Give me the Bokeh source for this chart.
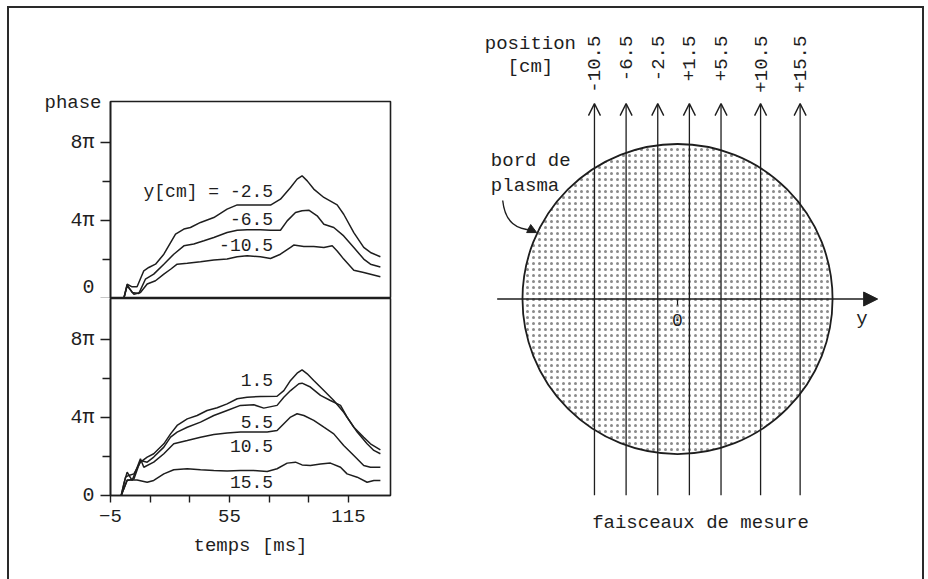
from bokeh.plotting import figure
from bokeh.models import (ColumnDataSource, FixedTicker, Label, Arrow, OpenHead,
                          NormalHead, Range1d)
from bokeh.layouts import row, column
from bokeh.embed import file_html
from bokeh.resources import INLINE
from bokeh.core.properties import value

FONT = "Liberation Mono"
INK = "#1e1e1e"

# ---------------- data: phase (units of pi) vs time [ms] ----------------
# upper panel: y[cm] = -2.5, -6.5, -10.5
t_m2_5 = [1.7, 3.4, 5.9, 8.4, 11.8, 14.3, 17.7, 21.9, 27.8, 32.0, 35.3, 40.4, 47.1, 53.8,
          58.9, 63.9, 70.6, 75.7, 80.7, 85.8, 89.1, 91.6, 94.2, 97.5, 102.6, 109.3, 112.6,
          117.7, 122.7, 126.1, 131.1]
v_m2_5 = [0.0, 0.73, 0.60, 0.60, 1.42, 1.59, 1.76, 2.27, 3.30, 3.56, 3.64, 3.90, 4.15, 4.58,
          4.80, 4.80, 4.79, 4.79, 5.09, 5.69, 6.12, 6.29, 6.03, 5.61, 5.18, 4.80, 4.32,
          3.38, 2.62, 2.36, 2.14]
t_m6_5 = [1.7, 3.4, 5.9, 9.3, 12.6, 16.8, 21.9, 26.9, 32.0, 37.0, 42.1, 47.1, 53.8, 58.9,
          63.9, 70.6, 75.7, 80.7, 84.1, 88.3, 91.6, 95.0, 99.2, 102.6, 107.6, 112.6, 117.7,
          122.7, 126.1, 131.1]
v_m6_5 = [0.0, 0.70, 0.31, 0.26, 0.99, 1.25, 1.76, 2.27, 2.70, 2.79, 2.96, 3.13, 3.38, 3.50,
          3.52, 3.52, 3.50, 3.50, 3.98, 4.41, 4.50, 4.53, 4.24, 3.81, 3.64, 3.21, 2.62,
          2.02, 1.76, 1.62]
t_m10_5 = [1.7, 3.4, 6.8, 10.1, 13.5, 17.7, 21.9, 25.3, 28.6, 33.7, 40.4, 47.1, 53.8, 58.9,
           63.9, 70.6, 75.7, 80.7, 85.8, 87.4, 92.5, 97.5, 102.6, 106.8, 109.3, 112.6, 117.7,
           122.7, 131.1]
v_m10_5 = [0.0, 0.65, 0.22, 0.31, 0.74, 0.91, 1.25, 1.50, 1.76, 1.81, 1.88, 1.97, 2.02, 2.14,
           2.19, 2.14, 2.05, 2.27, 2.62, 2.74, 2.67, 2.67, 2.62, 2.70, 2.44, 2.02, 1.45,
           1.33, 1.11]

# lower panel: y[cm] = 1.5, 5.5, 10.5, 15.5
t_p1_5 = [0.4, 2.6, 4.2, 6.8, 10.1, 13.5, 16.8, 21.9, 25.3, 28.6, 33.7, 38.7, 43.7, 48.8,
          53.8, 58.9, 63.9, 70.6, 79.0, 82.4, 85.8, 89.1, 91.6, 94.2, 97.5, 102.6, 107.6,
          112.6, 117.7, 122.7, 126.1, 131.1]
v_p1_5 = [0.0, 0.94, 1.03, 1.11, 1.71, 1.97, 2.14, 2.65, 3.16, 3.59, 3.93, 4.10, 4.36, 4.50,
          4.70, 4.96, 5.04, 5.08, 5.09, 5.38, 5.90, 6.27, 6.44, 6.24, 5.90, 5.38, 4.87,
          4.27, 3.50, 2.99, 2.65, 2.34]
t_p5_5 = [0.4, 3.4, 6.8, 10.1, 13.5, 16.8, 21.9, 25.3, 28.6, 33.7, 40.4, 47.1, 53.8, 60.5,
          67.3, 72.3, 79.0, 82.4, 85.8, 90.0, 91.6, 95.8, 100.9, 105.9, 111.0, 114.3, 119.4,
          124.4, 127.8, 131.1]
v_p5_5 = [0.0, 0.77, 0.85, 1.79, 1.71, 1.97, 2.48, 2.99, 3.25, 3.50, 3.76, 4.10, 4.36, 4.62,
          4.65, 4.48, 4.62, 5.04, 5.38, 5.73, 5.76, 5.56, 5.13, 4.87, 4.62, 4.02, 3.25,
          2.65, 2.31, 2.14]
t_p10_5 = [0.4, 1.7, 3.4, 5.9, 10.1, 11.8, 16.8, 21.9, 26.9, 33.7, 40.4, 47.1, 53.8, 60.5,
           67.3, 74.0, 79.0, 82.4, 85.8, 89.1, 92.5, 97.5, 102.6, 107.6, 112.6, 117.7, 122.7,
           126.1, 131.1]
v_p10_5 = [0.0, 0.60, 1.20, 0.77, 1.88, 1.45, 1.71, 2.14, 2.65, 2.82, 2.99, 3.13, 3.20, 3.25,
           3.25, 3.25, 3.33, 3.68, 4.02, 4.19, 4.10, 3.85, 3.50, 3.16, 2.56, 2.05, 1.54,
           1.45, 1.45]
t_p15_5 = [0.4, 3.4, 8.4, 13.5, 16.8, 21.9, 26.9, 33.7, 40.4, 47.1, 53.8, 60.5, 67.3, 74.0,
           79.0, 84.1, 88.3, 91.6, 95.8, 100.9, 105.9, 111.0, 114.3, 119.4, 124.4, 127.8, 131.1]
v_p15_5 = [0.0, 0.80, 0.80, 0.68, 0.77, 1.11, 1.32, 1.37, 1.32, 1.28, 1.25, 1.28, 1.28, 1.23,
           1.37, 1.66, 1.71, 1.57, 1.54, 1.62, 1.66, 1.45, 1.11, 0.94, 0.68, 0.77, 0.77]

top_labels = ["y[cm] = -2.5", "-6.5", "-10.5"]
top_label_y = [5.45, 4.07, 2.74]
bot_labels = ["1.5", "5.5", "10.5", "15.5"]
bot_label_y = [5.9, 3.76, 2.53, 0.68]
label_t = 77.0

y_ticks = [0, 4, 8]
y_minor = [2, 6]
y_tick_text = {0: "0", 4: "4π", 8: "8π"}
x_ticks = [-5, 55, 115]
x_minor = [15, 35, 75, 95]

# ---------------- data: measuring chords ----------------
beam_pos = [-10.5, -6.5, -2.5, 1.5, 5.5, 10.5, 15.5]
beam_text = ["-10.5", "-6.5", "-2.5", "+1.5", "+5.5", "+10.5", "+15.5"]
plasma_radius = 19.6


def style_text(lbl, size="18px"):
    lbl.text_font = FONT
    lbl.text_font_size = size
    lbl.text_color = INK
    return lbl


def panel(height, mb_top, mb_bottom, show_x, title=None):
    p = figure(width=455, height=height, x_range=Range1d(-5, 136.2), y_range=Range1d(0, 10.1),
               output_backend="svg", toolbar_location=None, title=title,
               min_border_left=101, min_border_right=74,
               min_border_top=mb_top, min_border_bottom=mb_bottom,
               x_axis_location="below" if show_x else None)
    p.grid.visible = False
    p.outline_line_color = INK
    p.outline_line_width = 1.6
    p.background_fill_color = "white"
    p.border_fill_color = "white"
    ya = p.yaxis[0]
    ya.ticker = FixedTicker(ticks=y_ticks, minor_ticks=y_minor)
    ya.major_label_overrides = y_tick_text
    ya.major_tick_out = 10
    ya.major_tick_in = 0
    ya.minor_tick_out = 8
    ya.minor_tick_in = 0
    ya.axis_line_color = INK
    ya.axis_line_width = 1.6
    ya.major_tick_line_color = INK
    ya.minor_tick_line_color = INK
    ya.major_tick_line_width = 1.4
    ya.minor_tick_line_width = 1.4
    ya.major_label_text_font = FONT
    ya.major_label_text_font_size = "20px"
    ya.major_label_text_color = INK
    ya.major_label_standoff = 6
    if show_x:
        xa = p.xaxis[0]
        xa.ticker = FixedTicker(ticks=x_ticks, minor_ticks=x_minor)
        xa.major_tick_out = 7
        xa.major_tick_in = 0
        xa.minor_tick_out = 7
        xa.minor_tick_in = 0
        xa.axis_line_color = INK
        xa.axis_line_width = 1.6
        xa.major_tick_line_color = INK
        xa.minor_tick_line_color = INK
        xa.major_tick_line_width = 1.4
        xa.minor_tick_line_width = 1.4
        xa.major_label_text_font = FONT
        xa.major_label_text_font_size = "19px"
        xa.major_label_text_color = INK
        xa.major_label_standoff = 7
        xa.axis_label = "temps [ms]"
        xa.axis_label_text_font = FONT
        xa.axis_label_text_font_size = "19px"
        xa.axis_label_text_font_style = "normal"
        xa.axis_label_text_color = INK
        xa.axis_label_standoff = 10
    return p


top = panel(290, 93, 0, False, title="phase")
top.title.align = "left"
top.title.offset = -66
top.title.standoff = -25
top.title.text_font = FONT
top.title.text_font_size = "19px"
top.title.text_font_style = "normal"
top.title.text_color = INK
for t, v in [(t_m2_5, v_m2_5), (t_m6_5, v_m6_5), (t_m10_5, v_m10_5)]:
    top.line(t, v, line_color=INK, line_width=1.5)
for txt, yy in zip(top_labels, top_label_y):
    top.add_layout(style_text(Label(x=label_t, y=yy, text=txt, text_align="right",
                                    text_baseline="middle")))

bot = panel(281, 0, 84, True)
for t, v in [(t_p1_5, v_p1_5), (t_p5_5, v_p5_5), (t_p10_5, v_p10_5), (t_p15_5, v_p15_5)]:
    bot.line(t, v, line_color=INK, line_width=1.5)
for txt, yy in zip(bot_labels, bot_label_y):
    bot.add_layout(style_text(Label(x=label_t, y=yy, text=txt, text_align="right",
                                    text_baseline="middle")))

# ---------------- right: beam geometry ----------------
r = figure(width=458, height=571, x_range=Range1d(-26.93, 30.97), y_range=Range1d(-35.46, 36.73),
           output_backend="svg", toolbar_location=None, min_border=0,
           x_axis_location=None, y_axis_location=None)
r.grid.visible = False
r.outline_line_color = None
r.background_fill_color = "white"
r.border_fill_color = "white"

r.circle(x=[0], y=[0.0], radius=plasma_radius, fill_color="white",
         hatch_pattern="dot", hatch_scale=6, hatch_color="#8a8a8a", hatch_weight=1,
         line_color=INK, line_width=1.8)

beam_src = ColumnDataSource(dict(x=beam_pos, y0=[-24.8] * len(beam_pos), y1=[24.7] * len(beam_pos),
                                 ty=[33.3] * len(beam_pos), text=beam_text))
r.add_layout(Arrow(end=OpenHead(size=12, line_width=1.4, line_color=INK),
                   x_start="x", y_start="y0", x_end="x", y_end="y1", source=beam_src,
                   line_color=INK, line_width=1.3))
r.text(x="x", y="ty", text="text", source=beam_src, angle=1.5708, text_align="right",
       text_baseline="middle", text_font=value(FONT), text_font_size="19px", text_color=INK)

# horizontal y axis with arrow
r.add_layout(Arrow(end=NormalHead(size=14, fill_color=INK, line_color=INK),
                   x_start=-22.8, y_start=0, x_end=25.3, y_end=0,
                   line_color=INK, line_width=1.5))
r.segment(x0=[0], y0=[0], x1=[0], y1=[-0.8], line_color=INK, line_width=1.2)
r.text(x=[0], y=[-2.6], text=["0"], text_align="center", text_baseline="middle",
       text_font=value(FONT), text_font_size="18px", text_color=INK)
r.text(x=[23.3], y=[-2.5], text=["y"], text_align="center", text_baseline="middle",
       text_font=value(FONT), text_font_size="19px", text_color=INK)

r.text(x=[-18.6, -18.6], y=[32.3, 29.3], text=["position", "[cm]"], text_align="center",
       text_baseline="middle", text_font=value(FONT), text_font_size="19px", text_color=INK)
r.text(x=[-23.6, -23.6], y=[17.4, 14.35], text=["bord de", "plasma"], text_align="left",
       text_baseline="middle", text_font=value(FONT), text_font_size="19px", text_color=INK)
r.bezier(x0=[-22.1], y0=[12.45], x1=[-18.3], y1=[8.7], cx0=[-21.8], cy0=[9.6],
         cx1=[-20.3], cy1=[8.8], line_color=INK, line_width=1.4)
r.add_layout(Arrow(end=NormalHead(size=9, fill_color=INK, line_color=INK),
                   x_start=-18.9, y_start=8.95, x_end=-17.8, y_end=8.4,
                   line_color=INK, line_width=1.4))
r.text(x=[2.9], y=[-28.3], text=["faisceaux de mesure"], text_align="center",
       text_baseline="middle", text_font=value(FONT), text_font_size="19px", text_color=INK)

lay = row(column(top, bot), r,
          styles={"border-top": "2px solid #2a2a2a", "border-left": "2px solid #2a2a2a",
                  "border-right": "2px solid #2a2a2a", "margin-left": "7px",
                  "margin-top": "6px"})

open("out.html", "w").write(file_html(lay, INLINE))
